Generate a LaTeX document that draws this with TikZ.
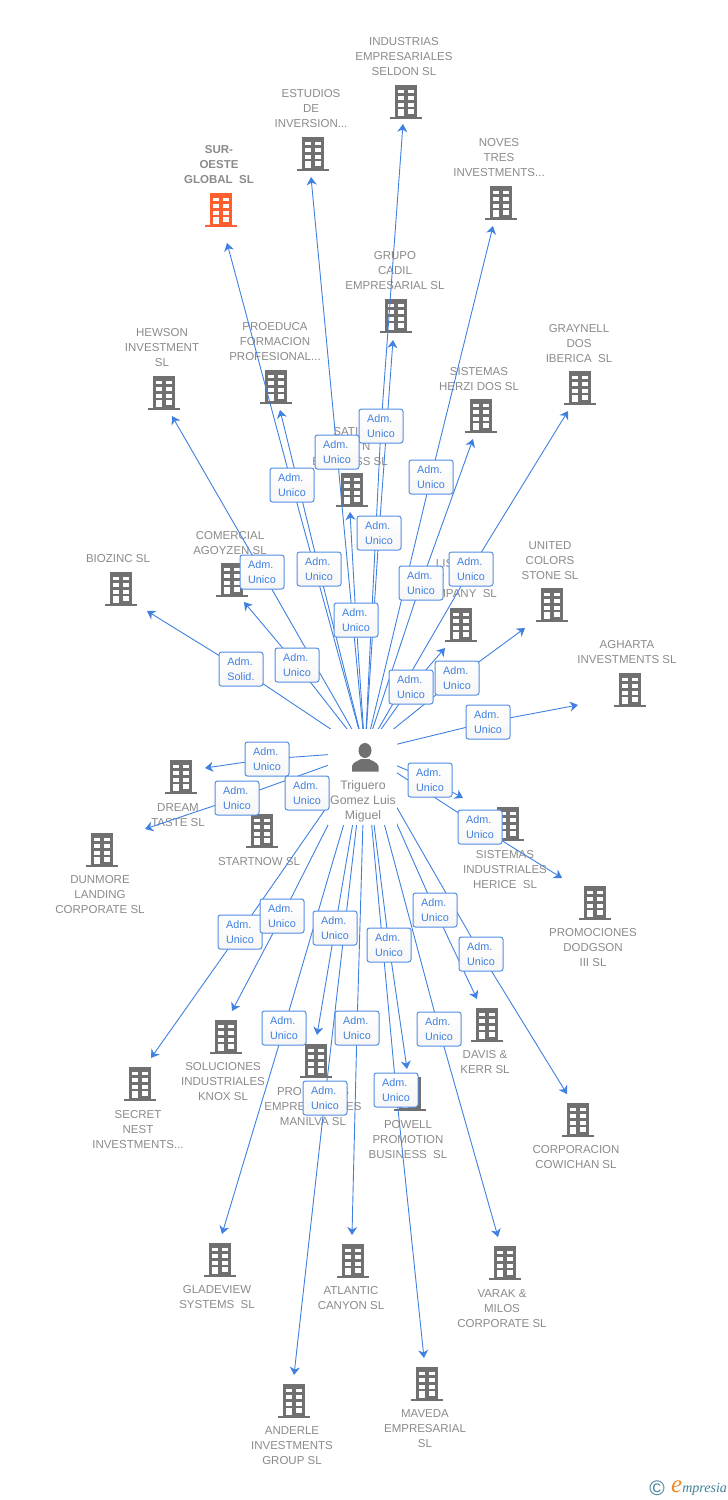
\documentclass[tikz,border=0pt]{standalone}
\usepackage{xcolor}
\usepackage{fontspec}
\setmainfont{Liberation Sans}
\newfontfamily\logofont{Liberation Serif}
\usepackage{tikz}
\usetikzlibrary{arrows.meta}
\definecolor{linkblue}{HTML}{3F80E0}
\definecolor{bldggray}{HTML}{707070}
\definecolor{labelgray}{HTML}{8A8A8A}
\definecolor{redbldg}{HTML}{FF5F2E}
\definecolor{logoteal}{HTML}{3F7F99}
\definecolor{logoorange}{HTML}{F08A24}
\tikzset{
  link/.style={linkblue, line width=.9pt},
  tipped/.style={-{Stealth[length=8pt,width=10pt,inset=2.5pt]}},
  admbox/.style={draw=linkblue!90!white, line width=1pt, rounded corners=2.5pt, top color=white, bottom color=gray!7, minimum width=44, minimum height=34, inner sep=0pt, text=linkblue, align=left, font=\fontsize{10.8}{15}\selectfont},
  complabel/.style={text=labelgray, align=center, inner sep=0pt, yshift=-1pt, font=\fontsize{11.5}{15}\selectfont}
}
\newcommand{\bldg}[3]{
  \begin{scope}[shift={(#2,#3)}]
    \fill[#1] (-11,-17) rectangle (11,15);
    \fill[#1] (-16,14.5) rectangle (16,17);
    \fill[white] (-7.7,-12.3) rectangle ++(5.2,3.5);
    \fill[white] (2.3,-12.3) rectangle ++(5.2,3.5);
    \fill[white] (-7.7,-6) rectangle ++(5.2,3.5);
    \fill[white] (2.3,-6) rectangle ++(5.2,3.5);
    \fill[white] (-7.7,1) rectangle ++(5.2,3.5);
    \fill[white] (2.3,1) rectangle ++(5.2,3.5);
    \fill[white] (-7.7,7.3) rectangle (-2.5,14.4);
    \fill[white] (2.3,7.3) rectangle (7.5,11.7);
  \end{scope}
}
\newcommand{\company}[6]{
  \bldg{bldggray}{#2}{#3}
  \node[complabel] (lbl#1) at (#4,#5) {#6};
}
\begin{document}
\begin{tikzpicture}[x=1pt,y=-1pt]
\useasboundingbox (0,0) rectangle (728,1500);
\company{ind}{406}{102}{404}{56}{INDUSTRIAS\\EMPRESARIALES\\SELDON SL}
\company{est}{313}{154}{311}{108}{ESTUDIOS\\DE\\INVERSION...}
\company{nov}{501}{203}{499}{157}{NOVES\\TRES\\INVESTMENTS...}
\company{cad}{396}{316}{395}{270}{GRUPO\\CADIL\\EMPRESARIAL SL}
\company{hew}{164}{393}{162}{347}{HEWSON\\INVESTMENT\\SL}
\company{pro}{276}{387}{275}{341}{PROEDUCA\\FORMACION\\PROFESIONAL...}
\company{her}{481}{416}{479}{378}{SISTEMAS\\HERZI DOS SL}
\company{gra}{580}{388}{579}{343}{GRAYNELL\\DOS\\IBERICA\ \ SL}
\company{sat}{352}{490}{350}{446}{SATIN\\\phantom{OCEA}N\\BUSINESS SL}
\company{com}{232}{580}{230}{542}{COMERCIAL\\AGOYZEN SL}
\company{bio}{121}{589}{118}{558}{BIOZINC SL}
\company{uni}{552}{605}{550}{560}{UNITED\\COLORS\\STONE SL}
\company{lis}{461}{625}{458}{578}{LIS\phantom{MOR}\\W\phantom{ESTER}\\COMPANY\ \ SL}
\company{agh}{630}{690}{627}{651}{AGHARTA\\INVESTMENTS SL}
\company{dre}{181}{777}{178}{814}{DREAM\\TASTE SL}
\company{sta}{262}{831}{259}{861}{STARTNOW SL}
\company{dun}{102}{850}{100}{894}{DUNMORE\\LANDING\\CORPORATE SL}
\company{sis}{508}{824}{505}{869}{SISTEMAS\\INDUSTRIALES\\HERICE\ \ SL}
\company{dod}{595}{903}{593}{947}{PROMOCIONES\\DODGSON\\III SL}
\company{sec}{140}{1084}{138}{1129}{SECRET\\NEST\\INVESTMENTS...}
\company{sol}{226}{1037}{223}{1081}{SOLUCIONES\\INDUSTRIALES\\KNOX SL}
\company{man}{316}{1061}{313}{1106}{PRO\phantom{YECTO}S\\EMPRE\phantom{SARIAL}ES\\MANILVA SL}
\company{pow}{410}{1094}{408}{1139}{POWELL\\PROMOTION\\BUSINESS\ \ SL}
\company{dav}{487}{1025}{485}{1061}{DAVIS \&\\KERR SL}
\company{cor}{578}{1120}{576}{1156}{CORPORACION\\COWICHAN SL}
\company{gla}{220}{1260}{217}{1296}{GLADEVIEW\\SYSTEMS\ \ SL}
\company{atl}{353}{1261}{351}{1297}{ATLANTIC\\CANYON SL}
\company{var}{505}{1263}{502}{1308}{VARAK \&\\MILOS\\CORPORATE SL}
\company{and}{294}{1401}{292}{1445}{ANDERLE\\INVESTMENTS\\GROUP SL}
\company{mav}{427}{1384}{425}{1428}{MAVEDA\\EMPRESARIAL\\SL}
\bldg{redbldg}{221}{210}
\node[complabel, font=\fontsize{11.5}{15}\selectfont\bfseries] (lblsur) at (219,164) {SUR-\\OESTE\\GLOBAL\ \ SL};

\coordinate (hubicon) at (365,752);
\foreach \nm/\ax/\ay/\tipx/\tipy in {
  sur/292/485/227/243, ind/381/426/403/124, est/337/452/311/177,
  nov/431/477/493/226, cad/379/533/393/340, hew/262/572/172/416,
  pro/319/569/280/410, her/421/583/473/439, gra/471/569/568/411,
  sat/356/620/350/512, com/297/665/244/602, bio/241/669/147/611,
  lis/411/687/445/648, uni/457/678/525/628, agh/488/722/578/705,
  dre/267/759/205/768, dun/237/798/145/829, sta/307/793/292/800,
  sis/430/780/463/798, dod/480/827/562/878,
  sec/240/932/151/1058, sol/282/916/232/1011, man/335/928/317/1035,
  pow/389/945/407/1069, dav/435/910/477/999, cor/481/954/567/1094,
  gla/284/1028/222/1234, atl/357/1028/352/1235, var/439/1029/498/1237,
  and/325/1098/294/1375, mav/396/1090/424/1358
} {
  \coordinate (mid\nm) at (\ax,\ay);
  \coordinate (tip\nm) at (\tipx,\tipy);
  \draw[link] (hubicon) -- (mid\nm);
  \draw[link, tipped] (mid\nm) -- (tip\nm);
}

\node[fill=white, minimum width=69, minimum height=96, inner sep=0pt] (hubmask) at (362.5,777) {};
\node[text=labelgray, align=center, inner sep=0pt, yshift=-1pt, font=\fontsize{12.3}{15}\selectfont] (hublabel) at (363,800) {Triguero\\Gomez Luis\\Miguel};
\fill[bldggray] (365,750.5) ellipse (6.5 and 7.5);
\fill[bldggray] (352,771.5) -- (352,766) .. controls (353,762) and (358,761) .. (361,759) -- (369,759) .. controls (372,761) and (377,762) .. (378.5,766) -- (378.5,771.5) -- cycle;

\foreach \nm/\ax/\ay/\role in {
  sur/292/485/Unico, ind/381/426/Unico, est/337/452/Unico,
  nov/431/477/Unico, cad/379/533/Unico, hew/262/572/Unico,
  pro/319/569/Unico, her/421/583/Unico, gra/471/569/Unico,
  sat/356/620/Unico, com/297/665/Unico, bio/241/669/Solid.,
  lis/411/687/Unico, uni/457/678/Unico, agh/488/722/Unico,
  dre/267/759/Unico, dun/237/798/Unico, sta/307/793/Unico,
  sis/430/780/Unico, dod/480/827/Unico,
  sec/240/932/Unico, sol/282/916/Unico, man/335/928/Unico,
  pow/389/945/Unico, dav/435/910/Unico, cor/481/954/Unico,
  gla/284/1028/Unico, atl/357/1028/Unico, var/439/1029/Unico,
  and/325/1098/Unico, mav/396/1090/Unico
} {
  \node[admbox] (adm\nm) at (\ax,\ay) {Adm.\\\role};
}

\node[text=logoteal, inner sep=0pt, font=\fontsize{21}{21}\selectfont] (logomark) at (657,1488) {©};
\node[text=logoteal, inner sep=0pt, anchor=west, font=\logofont\itshape\fontsize{14}{14}\selectfont] (logotext) at (671,1488) {{\color{logoorange}\fontsize{25}{21}\selectfont e}mpresia};
\end{tikzpicture}
\end{document}
